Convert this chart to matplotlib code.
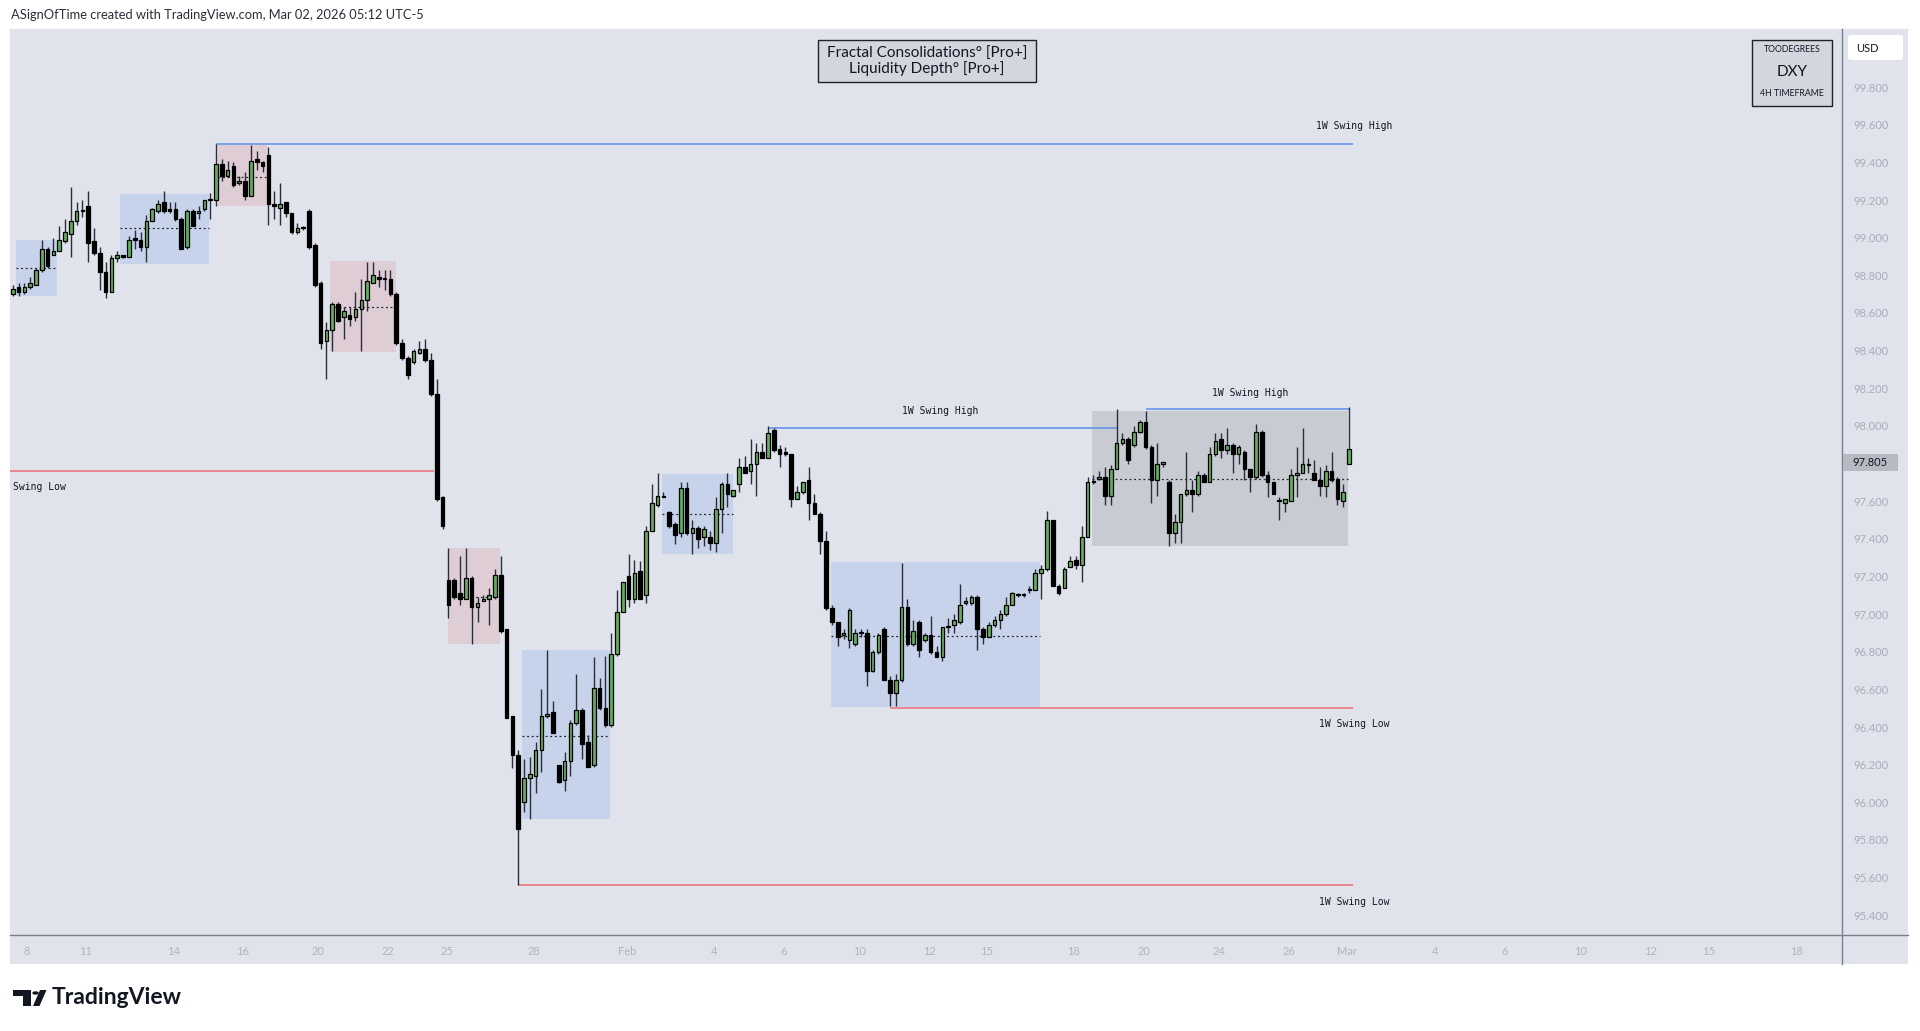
import numpy as np
import matplotlib

matplotlib.use("Agg")
import matplotlib.pyplot as plt
from matplotlib.patches import Rectangle, Polygon, Circle, FancyBboxPatch
from matplotlib.lines import Line2D

# ---- 4H DXY candles (oldest first) ----
O = [98.70, 98.74, 98.71, 98.74, 98.75, 98.83, 98.94, 98.91, 98.93, 98.98,
     99.02, 99.09, 99.14, 99.17, 98.98, 98.92, 98.82, 98.71, 98.89, 98.91,
     98.90, 99.00, 98.99, 98.95, 99.09, 99.14, 99.19, 99.15, 99.15, 99.10,
     98.95, 99.14, 99.13, 99.15, 99.20, 99.20, 99.39, 99.33, 99.38, 99.29,
     99.30, 99.22, 99.42, 99.40, 99.44, 99.18, 99.16, 99.19, 99.13, 99.03,
     99.05, 99.14, 98.96, 98.76, 98.45, 98.51, 98.65, 98.58, 98.59, 98.58,
     98.62, 98.67, 98.76, 98.79, 98.78, 98.78, 98.70, 98.44, 98.36, 98.34,
     98.39, 98.41, 98.35, 98.17, 97.62, 97.18, 97.18, 97.11, 97.08, 97.19,
     97.04, 97.07, 97.08, 97.09, 97.21, 96.92, 96.46, 96.25, 96.00, 96.13,
     96.14, 96.28, 96.46, 96.48, 96.20, 96.12, 96.22, 96.42, 96.49, 96.32,
     96.20, 96.61, 96.50, 96.41, 96.79, 97.01, 97.20, 97.08, 97.23, 97.10,
     97.44, 97.58, 97.63, 97.54, 97.48, 97.43, 97.67, 97.43, 97.46, 97.41,
     97.41, 97.38, 97.56, 97.69, 97.63, 97.69, 97.78, 97.76, 97.80, 97.86,
     97.83, 97.98, 97.88, 97.86, 97.85, 97.61, 97.65, 97.71, 97.59, 97.53,
     97.39, 97.03, 96.96, 96.89, 96.86, 96.84, 96.90, 96.90, 96.70, 96.80,
     96.92, 96.65, 96.58, 96.65, 97.04, 96.84, 96.96, 96.86, 96.89, 96.80,
     96.77, 96.93, 96.94, 96.96, 97.06, 97.06, 97.09, 96.92, 96.88, 96.94,
     96.97, 97.00, 97.05, 97.10, 97.10, 97.13, 97.13, 97.22, 97.24, 97.50,
     97.15, 97.14, 97.25, 97.29, 97.26, 97.41, 97.70, 97.72, 97.73, 97.63,
     97.77, 97.91, 97.93, 97.90, 97.97, 98.02, 97.89, 97.71, 97.80, 97.70,
     97.43, 97.49, 97.64, 97.66, 97.64, 97.74, 97.70, 97.85, 97.93, 97.87,
     97.90, 97.85, 97.86, 97.77, 97.73, 97.97, 97.74, 97.70, 97.60, 97.59,
     97.60, 97.74, 97.75, 97.79, 97.75, 97.71, 97.68, 97.76, 97.72, 97.60,
     97.80]
H = [98.75, 98.76, 98.76, 98.79, 98.84, 98.99, 98.95, 99.00, 99.06, 99.10,
     99.27, 99.19, 99.20, 99.25, 99.05, 98.95, 98.87, 98.91, 98.93, 98.91,
     99.01, 99.04, 99.03, 99.12, 99.16, 99.20, 99.25, 99.19, 99.19, 99.11,
     99.15, 99.15, 99.17, 99.20, 99.24, 99.50, 99.42, 99.41, 99.40, 99.33,
     99.35, 99.49, 99.46, 99.41, 99.48, 99.25, 99.29, 99.19, 99.13, 99.08,
     99.06, 99.15, 98.97, 98.77, 98.55, 98.66, 98.66, 98.63, 98.63, 98.71,
     98.78, 98.87, 98.87, 98.83, 98.83, 98.83, 98.71, 98.46, 98.37, 98.41,
     98.45, 98.46, 98.39, 98.25, 97.63, 97.35, 97.19, 97.31, 97.35, 97.20,
     97.09, 97.10, 97.14, 97.24, 97.31, 96.92, 96.46, 96.28, 96.23, 96.24,
     96.32, 96.60, 96.81, 96.54, 96.20, 96.27, 96.44, 96.68, 96.50, 96.36,
     96.77, 96.66, 96.78, 96.90, 97.13, 97.17, 97.32, 97.29, 97.28, 97.47,
     97.69, 97.75, 97.65, 97.55, 97.49, 97.70, 97.70, 97.50, 97.47, 97.47,
     97.44, 97.62, 97.70, 97.75, 97.66, 97.83, 97.84, 97.93, 97.91, 97.91,
     98.00, 97.99, 97.90, 97.89, 97.85, 97.68, 97.70, 97.78, 97.64, 97.54,
     97.44, 97.05, 96.96, 96.92, 97.03, 96.92, 96.92, 96.92, 96.81, 96.90,
     96.93, 96.67, 96.68, 97.27, 97.08, 96.97, 96.97, 96.90, 96.99, 96.83,
     96.93, 96.98, 97.00, 97.16, 97.09, 97.10, 97.10, 96.93, 96.96, 96.99,
     97.02, 97.09, 97.12, 97.11, 97.11, 97.15, 97.24, 97.26, 97.55, 97.50,
     97.16, 97.25, 97.31, 97.31, 97.47, 97.73, 97.74, 97.76, 97.78, 97.79,
     98.09, 97.96, 97.94, 98.00, 98.03, 98.08, 97.90, 97.91, 97.81, 97.71,
     97.53, 97.64, 97.86, 97.71, 97.76, 97.75, 97.89, 97.96, 97.96, 97.99,
     97.91, 97.90, 97.87, 97.77, 98.01, 97.98, 97.76, 97.70, 97.62, 97.61,
     97.77, 97.89, 97.99, 97.83, 97.82, 97.78, 97.79, 97.86, 97.73, 97.69,
     98.10]
L = [98.69, 98.69, 98.70, 98.73, 98.75, 98.82, 98.84, 98.91, 98.93, 98.97,
     98.90, 99.07, 99.11, 98.87, 98.91, 98.72, 98.68, 98.71, 98.87, 98.89,
     98.90, 98.94, 98.93, 98.87, 99.09, 99.13, 99.13, 99.13, 99.09, 98.94,
     98.94, 99.06, 99.10, 99.14, 99.10, 99.17, 99.30, 99.32, 99.27, 99.28,
     99.20, 99.22, 99.36, 99.35, 99.07, 99.10, 99.07, 99.11, 99.02, 99.02,
     99.04, 98.94, 98.74, 98.41, 98.25, 98.40, 98.55, 98.46, 98.53, 98.56,
     98.40, 98.61, 98.76, 98.74, 98.72, 98.69, 98.43, 98.35, 98.25, 98.33,
     98.38, 98.34, 98.16, 97.60, 97.45, 96.98, 97.08, 97.05, 97.08, 96.84,
     96.96, 97.07, 96.94, 97.08, 96.90, 96.45, 96.18, 95.56, 95.95, 95.91,
     96.05, 96.16, 96.45, 96.37, 96.10, 96.06, 96.14, 96.41, 96.23, 96.19,
     96.19, 96.49, 96.40, 96.40, 96.78, 97.01, 97.04, 97.06, 97.08, 97.06,
     97.44, 97.57, 97.62, 97.46, 97.37, 97.41, 97.42, 97.32, 97.35, 97.36,
     97.34, 97.33, 97.43, 97.57, 97.62, 97.65, 97.75, 97.69, 97.63, 97.83,
     97.83, 97.86, 97.78, 97.84, 97.57, 97.61, 97.64, 97.50, 97.53, 97.32,
     97.02, 96.94, 96.83, 96.87, 96.82, 96.83, 96.88, 96.62, 96.69, 96.79,
     96.65, 96.51, 96.51, 96.64, 96.83, 96.83, 96.77, 96.85, 96.79, 96.77,
     96.75, 96.90, 96.90, 96.95, 97.05, 97.05, 96.81, 96.84, 96.88, 96.93,
     96.92, 96.99, 97.05, 97.09, 97.09, 97.11, 97.13, 97.08, 97.23, 97.15,
     97.10, 97.14, 97.25, 97.24, 97.17, 97.41, 97.69, 97.71, 97.58, 97.58,
     97.77, 97.90, 97.80, 97.89, 97.96, 97.88, 97.59, 97.63, 97.78, 97.36,
     97.38, 97.38, 97.63, 97.54, 97.63, 97.70, 97.70, 97.84, 97.83, 97.85,
     97.75, 97.80, 97.71, 97.65, 97.72, 97.73, 97.62, 97.64, 97.50, 97.54,
     97.60, 97.62, 97.75, 97.75, 97.71, 97.63, 97.62, 97.70, 97.58, 97.57,
     97.80]
C = [98.73, 98.71, 98.74, 98.76, 98.83, 98.94, 98.85, 98.93, 98.99, 99.03,
     99.09, 99.14, 99.14, 98.97, 98.92, 98.82, 98.71, 98.89, 98.91, 98.90,
     98.99, 98.99, 98.95, 99.09, 99.15, 99.18, 99.14, 99.14, 99.10, 98.94,
     99.14, 99.06, 99.14, 99.20, 99.20, 99.39, 99.33, 99.36, 99.28, 99.30,
     99.22, 99.41, 99.40, 99.38, 99.18, 99.17, 99.18, 99.13, 99.03, 99.05,
     99.05, 98.95, 98.75, 98.44, 98.51, 98.65, 98.56, 98.61, 98.57, 98.62,
     98.67, 98.77, 98.80, 98.78, 98.78, 98.70, 98.44, 98.36, 98.27, 98.40,
     98.41, 98.35, 98.17, 97.61, 97.47, 97.05, 97.09, 97.08, 97.19, 97.04,
     97.06, 97.08, 97.10, 97.21, 96.91, 96.45, 96.25, 95.86, 96.13, 96.15,
     96.28, 96.46, 96.47, 96.37, 96.11, 96.22, 96.42, 96.49, 96.31, 96.19,
     96.61, 96.50, 96.41, 96.79, 97.01, 97.17, 97.08, 97.22, 97.08, 97.44,
     97.59, 97.63, 97.62, 97.47, 97.42, 97.67, 97.43, 97.46, 97.40, 97.45,
     97.38, 97.56, 97.69, 97.64, 97.66, 97.78, 97.75, 97.80, 97.86, 97.83,
     97.96, 97.87, 97.85, 97.85, 97.61, 97.65, 97.70, 97.59, 97.53, 97.39,
     97.03, 96.96, 96.88, 96.90, 97.02, 96.90, 96.90, 96.70, 96.80, 96.89,
     96.65, 96.58, 96.65, 97.04, 96.84, 96.91, 96.81, 96.89, 96.80, 96.77,
     96.93, 96.93, 96.97, 97.05, 97.07, 97.09, 96.92, 96.88, 96.94, 96.97,
     97.00, 97.05, 97.11, 97.10, 97.10, 97.13, 97.22, 97.24, 97.50, 97.15,
     97.11, 97.24, 97.28, 97.26, 97.41, 97.70, 97.70, 97.73, 97.63, 97.77,
     97.91, 97.93, 97.82, 97.97, 98.02, 97.89, 97.71, 97.80, 97.80, 97.43,
     97.49, 97.64, 97.66, 97.64, 97.74, 97.70, 97.85, 97.92, 97.87, 97.90,
     97.85, 97.89, 97.77, 97.73, 97.97, 97.74, 97.70, 97.64, 97.60, 97.61,
     97.74, 97.75, 97.80, 97.79, 97.71, 97.68, 97.76, 97.71, 97.61, 97.65,
     97.88]
LAST_PRICE = 97.805

# consolidation boxes: bar span, price range, midline, kind
box_x0 = [0.5, 18.5, 35.4, 54.6, 74.9, 87.7, 111.8, 140.9, 185.7]
box_x1 = [7.7, 33.7, 43.7, 66.0, 83.8, 102.8, 123.9, 176.8, 229.9]
box_lo = [98.69, 98.86, 99.17, 98.395, 96.84, 95.91, 97.32, 96.505, 97.364]
box_hi = [98.99, 99.23, 99.49, 98.877, 97.35, 96.81, 97.745, 97.276, 98.081]
box_mid = [98.84, 99.05, 99.325, 98.634, 97.093, 96.354, 97.532, 96.886, 97.717]
box_kind = ["bull", "bull", "bear", "bear", "bear", "bull", "bull", "bull", "open"]

# 1W swing levels
sh_price = [99.50, 97.99, 98.09]
sh_x0 = [35, 130, 195]
sh_x1 = [230.7, 190, 230]
sl_price = [97.76, 96.50, 95.56]
sl_x0 = [-1, 151, 87]
sl_x1 = [72.5, 230.7, 230.7]

# time axis
tick_pos = [2.45, 12.6, 27.7, 39.5, 52.6, 64.6, 74.7, 89.7, 105.7, 120.7, 132.7,
            145.8, 157.8, 167.7, 182.6, 194.7, 207.7, 219.7, 229.7, 244.8,
            256.8, 269.9, 281.9, 291.8, 307.0]
tick_lab = ["8", "11", "14", "16", "20", "22", "25", "28", "Feb", "4", "6",
            "10", "12", "15", "18", "20", "24", "26", "Mar", "4", "6",
            "10", "12", "15", "18"]
price_ticks = [95.4, 95.6, 95.8, 96.0, 96.2, 96.4, 96.6, 96.8, 97.0, 97.2,
               97.4, 97.6, 98.0, 98.2, 98.4, 98.6, 98.8, 99.0, 99.2, 99.4,
               99.6, 99.8]

BG = "#e0e3eb"
GREEN = "#63ad5e"
BOX_COL = {"bull": "#c7d3ea", "bear": "#dfcdd6", "open": "#c9cbd3"}
BLUE = "#5d8ee8"
RED = "#ee6b75"
MONO = "DejaVu Sans Mono"
SANS = "Lato"

W, Hpx = 1920, 1031


def fx(px):
    return px / W


def fy(py):
    return 1 - py / Hpx


fig = plt.figure(figsize=(W / 100, Hpx / 100), dpi=100)
fig.patch.set_facecolor("white")

# chart panel incl. both scales
fig.add_artist(Rectangle((fx(10), fy(964)), fx(1908) - fx(10), fy(29) - fy(964),
                         transform=fig.transFigure, facecolor=BG, edgecolor="none", zorder=0))
fig.add_artist(Line2D([fx(10), fx(1908)], [fy(29), fy(29)], transform=fig.transFigure,
                      color="#e6e8ee", lw=1, zorder=1))

ax = fig.add_axes([fx(10), fy(935), fx(1842) - fx(10), fy(29) - fy(935)])
ax.set_facecolor(BG)
ax.set_xlim(-0.465, 314.85)
ax.set_ylim(95.295, 100.109)
for s in ax.spines.values():
    s.set_visible(False)

# boxes + dotted midlines
for x0, x1, lo, hi, mid, k in zip(box_x0, box_x1, box_lo, box_hi, box_mid, box_kind):
    ax.add_patch(Rectangle((x0, lo), x1 - x0, hi - lo, facecolor=BOX_COL[k],
                           edgecolor="none", zorder=1))
    ax.hlines(mid, x0, x1, colors="#222222", linestyles=(0, (1.5, 2.2)), lw=0.9, zorder=2)

# swing lines
ax.hlines(sh_price, sh_x0, sh_x1, colors=BLUE, lw=1.1, zorder=2)
ax.hlines(sl_price, sl_x0, sl_x1, colors=RED, lw=1.1, zorder=2)

# candles
x = np.arange(len(O))
o, h, l, c = map(np.array, (O, H, L, C))
up = c >= o
lo_b = np.minimum(o, c)
hb = np.maximum(np.abs(c - o), 0.006)
ax.vlines(x, l, h, color="#2a2e39", lw=1, zorder=3)
ax.bar(x[up], hb[up], bottom=lo_b[up], width=0.62, color=GREEN,
       edgecolor="black", linewidth=0.9, zorder=4)
ax.bar(x[~up], hb[~up], bottom=lo_b[~up], width=0.62, color="black",
       edgecolor="black", linewidth=0.9, zorder=4)

# swing labels
lab_kw = dict(fontsize=7, family=MONO, color="#131722", zorder=5)
ax.text(230.9, 99.594, "1W Swing High", ha="center", va="center", **lab_kw)
ax.text(159.6, 98.078, "1W Swing High", ha="center", va="center", **lab_kw)
ax.text(213.0, 98.175, "1W Swing High", ha="center", va="center", **lab_kw)
ax.text(230.9, 96.418, "1W Swing Low", ha="center", va="center", **lab_kw)
ax.text(230.9, 95.469, "1W Swing Low", ha="center", va="center", **lab_kw)
ax.text(0.0, 97.676, "Swing Low", ha="left", va="center", **lab_kw)

# axes ticks
ax.yaxis.tick_right()
ax.set_yticks(price_ticks)
ax.set_yticklabels([f"{v:.3f}" for v in price_ticks])
ax.set_xticks(tick_pos)
ax.set_xticklabels(tick_lab)
ax.tick_params(axis="y", length=0, pad=8, labelsize=8, labelcolor="#a9adb9")
ax.tick_params(axis="x", length=0, pad=8, labelsize=8, labelcolor="#b0b4bf")
for lab in ax.get_xticklabels() + ax.get_yticklabels():
    lab.set_family(SANS)

# scale separators
fig.add_artist(Line2D([fx(1842), fx(1842)], [fy(29), fy(964)], transform=fig.transFigure,
                      color="#7b7f8b", lw=1, zorder=6))
fig.add_artist(Line2D([fx(10), fx(1908)], [fy(935), fy(935)], transform=fig.transFigure,
                      color="#7b7f8b", lw=1, zorder=6))

# current price tag
fig.add_artist(Rectangle((fx(1843), fy(471)), fx(1898) - fx(1843), fy(454) - fy(471),
                         transform=fig.transFigure, facecolor="#b7bac3", edgecolor="none", zorder=7))
fig.text(fx(1852), fy(462.5), f"{LAST_PRICE:.3f}", fontsize=8, family=SANS,
         color="#131722", va="center", ha="left", zorder=8)

# USD box
fig.add_artist(FancyBboxPatch((fx(1848), fy(60)), fx(1903) - fx(1848), fy(35) - fy(60),
                              boxstyle="round,pad=0,rounding_size=0.002",
                              transform=fig.transFigure, facecolor="white",
                              edgecolor="none", zorder=7))
fig.text(fx(1856), fy(48), "USD", fontsize=8, family=SANS, color="#131722",
         va="center", ha="left", zorder=8)

# indicator title box
fig.add_artist(Rectangle((fx(818), fy(82)), fx(1036) - fx(818), fy(40) - fy(82),
                         transform=fig.transFigure, facecolor="#d3d6de", edgecolor="#222222",
                         lw=1, zorder=7))
fig.text(fx(927), fy(54), "Fractal Consolidations° [Pro+]", fontsize=11, family=SANS,
         color="#131722", ha="center", va="center", zorder=8)
fig.text(fx(927), fy(69), "Liquidity Depth° [Pro+]", fontsize=11, family=SANS,
         color="#131722", ha="center", va="center", zorder=8)

# symbol box
fig.add_artist(Rectangle((fx(1752), fy(106)), fx(1832) - fx(1752), fy(40) - fy(106),
                         transform=fig.transFigure, facecolor="#d3d6de", edgecolor="#222222",
                         lw=1, zorder=7))
fig.text(fx(1792), fy(50), "TOODEGREES", fontsize=6.3, family=SANS, color="#131722",
         ha="center", va="center", zorder=8)
fig.text(fx(1792), fy(72), "DXY", fontsize=11, family=SANS, color="#131722",
         ha="center", va="center", zorder=8)
fig.text(fx(1792), fy(93), "4H TIMEFRAME", fontsize=6.3, family=SANS, color="#131722",
         ha="center", va="center", zorder=8)

# header
fig.text(fx(11), fy(15), "ASignOfTime created with TradingView.com, Mar 02, 2026 05:12 UTC-5",
         fontsize=9.3, family=SANS, color="#2a2e39", ha="left", va="center")

# TradingView logo
logo = "#131722"
fig.add_artist(Polygon([(fx(13), fy(990)), (fx(31), fy(990)), (fx(31), fy(1006)),
                        (fx(23), fy(1006)), (fx(23), fy(996)), (fx(13), fy(996))],
                       closed=True, transform=fig.transFigure, facecolor=logo, edgecolor="none"))
fig.add_artist(Circle((fx(35.5), fy(993)), 3.2 / W, transform=fig.transFigure,
                      facecolor=logo, edgecolor="none"))
fig.add_artist(Polygon([(fx(40), fy(990)), (fx(46.5), fy(990)), (fx(39.5), fy(1006)),
                        (fx(33), fy(1006))], closed=True, transform=fig.transFigure,
                       facecolor=logo, edgecolor="none"))
fig.text(fx(52), fy(998), "TradingView", fontsize=16.5, family=SANS, weight="bold",
         color=logo, ha="left", va="center")

fig.savefig("out.png", dpi=100, facecolor="white")
